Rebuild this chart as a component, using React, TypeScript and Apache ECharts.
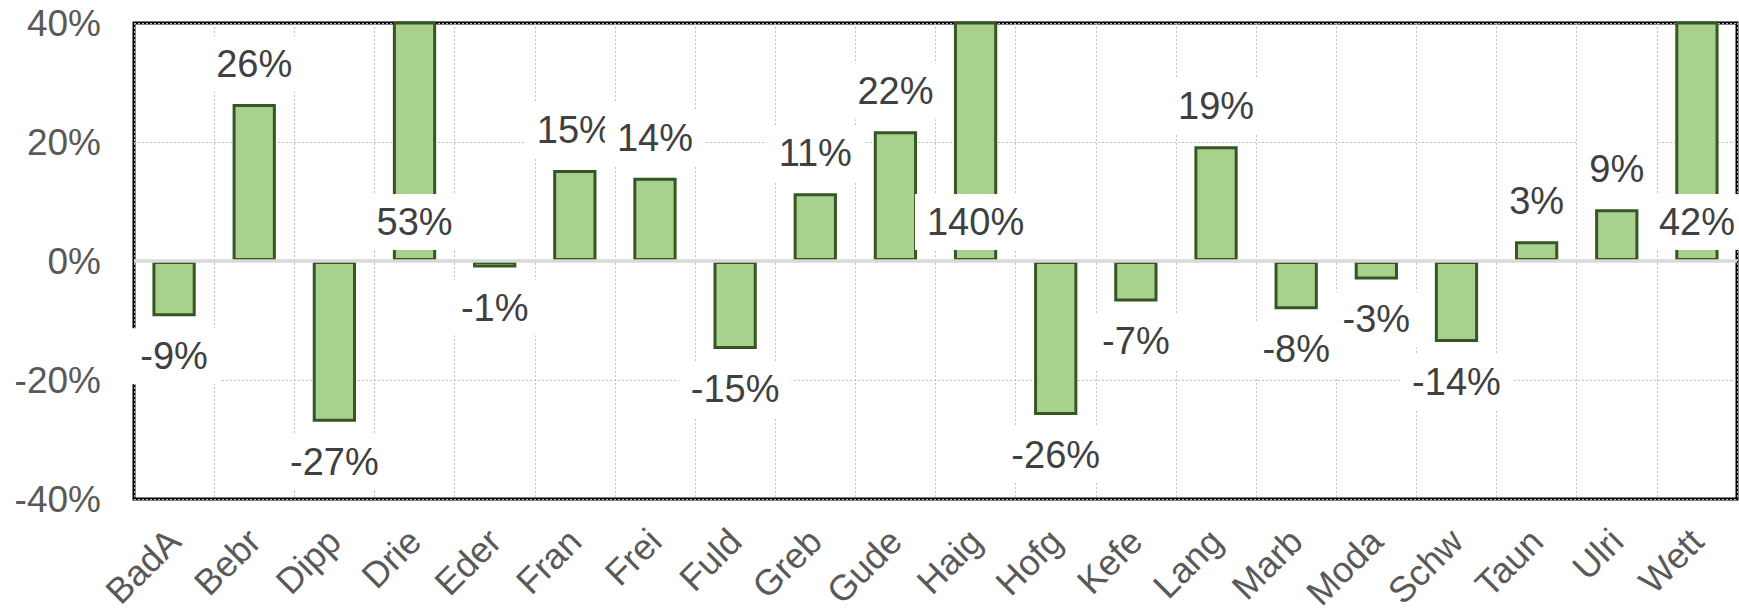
import React, { useEffect, useRef } from "react";
import * as echarts from "echarts";

const categories = ["BadA", "Bebr", "Dipp", "Drie", "Eder", "Fran", "Frei", "Fuld", "Greb", "Gude", "Haig", "Hofg", "Kefe", "Lang", "Marb", "Moda", "Schw", "Taun", "Ulri", "Wett"];
const changePct = [-9.3, 26.4, -27.0, 53, -1.1, 15.3, 14.0, -14.8, 11.4, 21.8, 140, -25.9, -6.8, 19.3, -8.1, -3.1, -13.6, 3.3, 8.7, 42];
const yMin = -40;
const yMax = 40;
const yStep = 20;

const FONT = "'Liberation Sans', Arial, sans-serif";

export default function App() {
  const ref = useRef<HTMLDivElement>(null);
  useEffect(() => {
    if (!ref.current) return;
    const chart = echarts.init(ref.current, null, { renderer: "svg" });
    const data = changePct.map((v) => {
      let position: string = v >= 0 ? "top" : "bottom";
      let distance = 12;
      if (v > yMax) {
        position = "insideBottom";
        distance = 11;
      }
      return { value: v, label: { position, distance } };
    });
    chart.setOption({
      animation: false,
      backgroundColor: "#ffffff",
      grid: {
        left: 134,
        top: 23,
        right: 2,
        bottom: 115,
        outerBoundsMode: "none",
        containLabel: false,
        show: true,
        borderColor: "#000000",
        borderWidth: 3,
        backgroundColor: "transparent",
      },
      xAxis: {
        type: "category",
        data: categories,
        boundaryGap: true,
        axisLine: { show: false, onZero: false },
        axisTick: { show: false },
        axisLabel: {
          rotate: 45,
          margin: 36,
          color: "#595959",
          fontSize: 36,
          fontFamily: FONT,
          interval: 0,
        },
        splitLine: {
          show: true,
          interval: 0,
          lineStyle: { color: "#bfbfbf", type: [2, 2], width: 1 },
        },
      },
      yAxis: {
        type: "value",
        min: yMin,
        max: yMax,
        interval: yStep,
        axisLine: { show: false },
        axisTick: { show: false },
        axisLabel: {
          formatter: "{value}%",
          color: "#595959",
          fontSize: 37,
          fontFamily: FONT,
          margin: 33,
        },
        splitLine: {
          show: true,
          lineStyle: { color: "#bfbfbf", type: [2, 2], width: 1 },
        },
      },
      series: [
        {
          type: "bar",
          data,
          barWidth: "54%",
          clip: true,
          itemStyle: {
            color: "#a9d18e",
            borderColor: "#375623",
            borderWidth: 3,
          },
          label: {
            show: true,
            formatter: (p: any) => Math.round(p.value) + "%",
            color: "#404040",
            fontSize: 38,
            fontFamily: FONT,
            backgroundColor: "#ffffff",
            padding: [9, 12],
          },
          markLine: {
            silent: true,
            symbol: "none",
            label: { show: false },
            lineStyle: { color: "#d9d9d9", type: "solid", width: 3.5 },
            data: [{ yAxis: 0 }],
          },
        },
      ],
    });
    return () => chart.dispose();
  }, []);
  return (
    <div
      ref={ref}
      style={{ position: "fixed", left: 0, top: 0, width: 1739, height: 614 }}
    />
  );
}
